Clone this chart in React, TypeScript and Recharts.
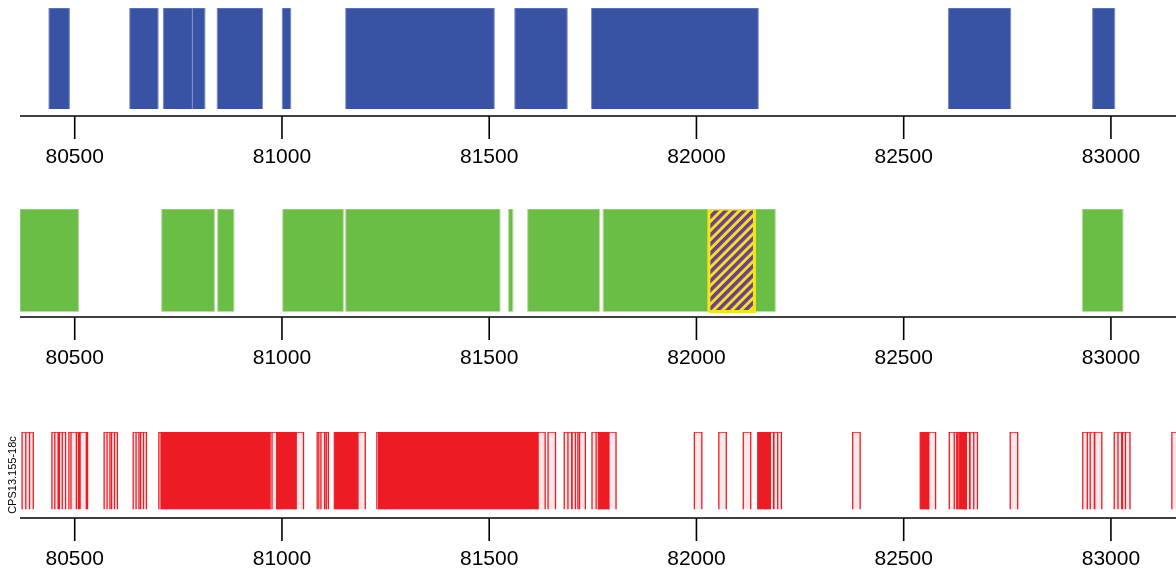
import React from "react";
import { ComposedChart, Area, XAxis, YAxis } from "recharts";

const xTicks = [80500, 81000, 81500, 82000, 82500, 83000];
const xDomain = [80368, 83157];

// blue track intervals [start, end]
const blueBlocks: [number, number][] = [
  [80438, 80487], [80633, 80701], [80714, 80784], [80784, 80814], [80844, 80953],
  [81001, 81021], [81154, 81512], [81562, 81688], [81747, 82149], [82608, 82758],
  [82956, 83009],
];

// green track intervals + the highlighted one
const greenBlocks: [number, number][] = [
  [80368, 80509], [80710, 80837], [80845, 80884], [81002, 81148], [81154, 81526],
  [81547, 81557], [81593, 81766], [81775, 82190], [82931, 83029],
];
const hatchedBlocks: [number, number][] = [[82030, 82140]];

// red track: read starts (fixed length) and fully covered stretches
const readLength = 18;
const redReads = [
  80373, 80382, 80445, 80452, 80460, 80486, 80491, 80510, 80513, 80571, 80578, 80585,
  80641, 80648, 80655, 80703, 80971, 80976, 81034, 81085, 81089, 81094, 81183, 81229,
  81617, 81642, 81681, 81690, 81700, 81714, 81748, 81758, 81788, 81995, 82054, 82113,
  82148, 82168, 82178, 82187, 82377, 82540, 82559, 82610, 82622, 82631, 82641, 82651,
  82660, 82757, 82932, 82943, 82960, 83008, 83017, 83028, 83147,
];
const redDense: [number, number][] = [
  [80708, 80971], [80987, 81034], [81126, 81183], [81233, 81618], [81763, 81789],
  [82149, 82178], [82542, 82561], [82634, 82651],
];
const trackName = "CPS13.155-18c";

type Row = { x: number; [k: string]: number | null };

function stepRows(spans: [number, number][], key: string, closed = false): Row[] {
  const rows: Row[] = [];
  spans.forEach(([s, e]) => {
    rows.push({ x: s, [key]: 0 }, { x: s, [key]: 1 }, { x: e, [key]: 1 }, { x: e, [key]: 0 });
    if (closed) rows.push({ x: s, [key]: 0 });
    rows.push({ x: e, [key]: null });
  });
  return rows;
}

const blueData = stepRows(blueBlocks, "v");
const greenData = [...stepRows(greenBlocks, "g"), ...stepRows(hatchedBlocks, "h", true)];
const redData = [
  ...stepRows(redDense, "d"),
  ...stepRows(redReads.map((s) => [s, s + readLength] as [number, number]), "r"),
];

const axisFont = { fontSize: 21, fill: "#000" };

function BottomAxis({ height }: { height: number }) {
  return (
    <XAxis
      dataKey="x"
      type="number"
      domain={xDomain}
      allowDataOverflow
      ticks={xTicks}
      interval={0}
      height={height}
      tick={axisFont}
      tickSize={23}
      tickMargin={9}
      axisLine={{ stroke: "#000", strokeWidth: 1.6 }}
      tickLine={{ stroke: "#000", strokeWidth: 1.6 }}
    />
  );
}

export default function App() {
  return (
    <div style={{ position: "fixed", left: 0, top: 0, width: 1176, height: 574, overflow: "hidden", fontFamily: "'Liberation Sans', Arial, sans-serif" }}>
      <ComposedChart width={1176} height={180} data={blueData} margin={{ top: 8, right: 0, left: 20, bottom: 0 }}>
        {BottomAxis({ height: 64 })}
        <YAxis type="number" domain={[-0.07, 1]} hide allowDataOverflow />
        <Area type="linear" dataKey="v" baseValue={0} fill="#3953a4" fillOpacity={1} stroke="#7d8dc9" strokeWidth={1} isAnimationActive={false} dot={false} activeDot={false} />
      </ComposedChart>

      <ComposedChart width={1176} height={220} data={greenData} margin={{ top: 29, right: 0, left: 20, bottom: 0 }}>
        <defs>
          <pattern id="hatch" patternUnits="userSpaceOnUse" width={6.5} height={6.5} patternTransform="rotate(45)">
            <rect width={6.5} height={6.5} fill="#f5e31c" />
            <rect width={3.6} height={6.5} fill="#6c3f96" />
          </pattern>
        </defs>
        {BottomAxis({ height: 83 })}
        <YAxis type="number" domain={[-0.053, 1]} hide allowDataOverflow />
        <Area type="linear" dataKey="g" baseValue={0} fill="#6abd45" fillOpacity={1} stroke="#b2dc9c" strokeWidth={1} isAnimationActive={false} dot={false} activeDot={false} />
        <Area type="linear" dataKey="h" baseValue={0} fill="url(#hatch)" fillOpacity={1} stroke="#f5e31c" strokeWidth={3} isAnimationActive={false} dot={false} activeDot={false} />
      </ComposedChart>

      <ComposedChart width={1176} height={174} data={redData} margin={{ top: 32, right: 0, left: 0, bottom: 0 }}>
        {BottomAxis({ height: 56 })}
        <YAxis
          type="number"
          domain={[-0.113, 1]}
          allowDataOverflow
          width={20}
          tick={false}
          axisLine={false}
          tickLine={false}
          label={(p: any) => {
            const vb = p.viewBox || {};
            const cx = 16;
            const cy = (vb.y ?? 432) + (vb.height ?? 86) / 2;
            return (
              <text x={cx} y={cy} transform={`rotate(-90 ${cx} ${cy})`} textAnchor="middle" fontSize={11} fill="#000">
                {trackName}
              </text>
            );
          }}
        />
        <Area type="linear" dataKey="d" baseValue={0} fill="#ed1c24" fillOpacity={1} stroke="#ed1c24" strokeWidth={1} isAnimationActive={false} dot={false} activeDot={false} />
        <Area type="linear" dataKey="r" baseValue={0} fill="#ed1c24" fillOpacity={0.1} stroke="#ed1c24" strokeWidth={1.3} isAnimationActive={false} dot={false} activeDot={false} />
      </ComposedChart>
    </div>
  );
}
